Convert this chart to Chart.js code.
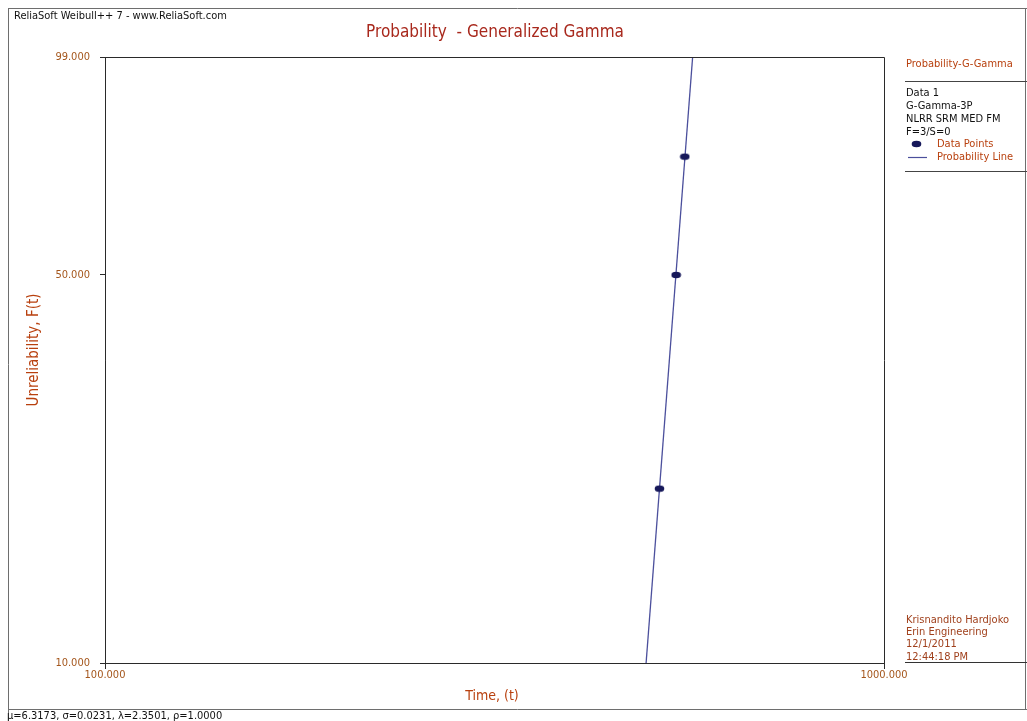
<!DOCTYPE html>
<html>
<head>
<meta charset="utf-8">
<script src="https://cdn.jsdelivr.net/npm/chart.js@4.4.1/dist/chart.umd.min.js"></script>
<style>
  html, body { margin: 0; padding: 0; background: #fff; }
  #wrap { position: relative; width: 1027px; height: 721px; }
</style>
</head>
<body>
<div id="wrap"><canvas id="c" width="1027" height="721"></canvas></div>
<script>
// Fitted G-Gamma parameters
const mu = 6.3173;
const sigma = 0.0231;
const lambda = 2.3501;
const rho = 1.0;

// Failure data (times) and their median ranks, in percent
const failureTimes = [515, 541, 555];
const medianRanks = [20.63, 50.0, 79.37];

// Probability line end points: time and unreliability (%)
const lineTimes = [495, 568];
const lineUnrel = [10, 99];

// Tick labels
const yTickLabels = [10, 50, 99];
const xTickLabels = [100, 1000];

// ---- probability scale for the generalized gamma paper ----
function lnGamma(z) {
  const g = 7;
  const c = [0.99999999999980993, 676.5203681218851, -1259.1392167224028,
    771.32342877765313, -176.61502916214059, 12.507343278686905,
    -0.13857109526572012, 9.9843695780195716e-6, 1.5056327351493116e-7];
  if (z < 0.5) return Math.log(Math.PI / Math.sin(Math.PI * z)) - lnGamma(1 - z);
  z -= 1;
  let x = c[0];
  for (let i = 1; i < g + 2; i++) x += c[i] / (z + i);
  const t = z + g + 0.5;
  return 0.5 * Math.log(2 * Math.PI) + (z + 0.5) * Math.log(t) - t + Math.log(x);
}
function gammaP(a, x) {
  if (x <= 0) return 0;
  const front = Math.exp(-x + a * Math.log(x) - lnGamma(a));
  if (x < a + 1) {
    let ap = a, sum = 1 / a, del = sum;
    for (let n = 0; n < 1000; n++) {
      ap += 1; del *= x / ap; sum += del;
      if (Math.abs(del) < Math.abs(sum) * 1e-15) break;
    }
    return sum * front;
  }
  let b = x + 1 - a, c = 1e300, d = 1 / b, h = d;
  for (let i = 1; i < 1000; i++) {
    const an = -i * (i - a);
    b += 2;
    d = an * d + b; if (Math.abs(d) < 1e-300) d = 1e-300;
    c = b + an / c; if (Math.abs(c) < 1e-300) c = 1e-300;
    d = 1 / d;
    const del = d * c; h *= del;
    if (Math.abs(del - 1) < 1e-15) break;
  }
  return 1 - front * h;
}
function gammaPInv(a, p) {
  let lo = -80, hi = 7;
  for (let i = 0; i < 200; i++) {
    const m = (lo + hi) / 2;
    if (gammaP(a, Math.exp(m)) < p) lo = m; else hi = m;
  }
  return Math.exp((lo + hi) / 2);
}
// standardized G-Gamma variate for an unreliability given in percent
function ggScale(pct) {
  const k = 1 / (lambda * lambda);
  const x = gammaPInv(k, pct / 100);
  return Math.log(x / k) / lambda;
}

const pointData = failureTimes.map((t, i) => ({ x: t, y: ggScale(medianRanks[i]) }));
const lineData = lineTimes.map((t, i) => ({ x: t, y: ggScale(lineUnrel[i]) }));
const yTickValues = yTickLabels.map(ggScale);

// oval marker for the data points
const marker = document.createElement('canvas');
marker.width = 11; marker.height = 8;
(function () {
  const m = marker.getContext('2d');
  m.fillStyle = '#16185a';
  m.beginPath();
  m.ellipse(5.5, 4, 4.8, 3.3, 0, 0, Math.PI * 2);
  m.fill();
})();

const FONT = "'DejaVu Sans Condensed', 'DejaVu Sans', sans-serif";
const TICK_COLOR = '#a4561c';
const RED = '#a8281c';
const AXIS_TITLE = '#b8400e';

const decor = {
  id: 'decor',
  afterDraw(chart) {
    const ctx = chart.ctx;
    const a = chart.chartArea;
    ctx.save();

    // outer frame
    ctx.strokeStyle = '#6e6e6e';
    ctx.lineWidth = 1;
    ctx.beginPath();
    ctx.moveTo(8, 8.5); ctx.lineTo(1027, 8.5);
    ctx.moveTo(8.5, 8); ctx.lineTo(8.5, 721);
    ctx.moveTo(8, 709.5); ctx.lineTo(1027, 709.5);
    ctx.moveTo(1025.5, 8); ctx.lineTo(1025.5, 710);
    ctx.stroke();

    // plot box
    ctx.strokeStyle = '#2a2a2a';
    ctx.beginPath();
    ctx.rect(Math.round(a.left) + 0.5, Math.round(a.top) + 0.5,
      Math.round(a.right - a.left), Math.round(a.bottom - a.top));
    ctx.stroke();

    // header
    ctx.fillStyle = '#111';
    ctx.font = "11px " + FONT;
    ctx.textBaseline = 'middle';
    ctx.textAlign = 'left';
    ctx.fillText('ReliaSoft Weibull++ 7 - www.ReliaSoft.com', 14, 16);

    // title
    ctx.fillStyle = RED;
    ctx.font = "17px " + FONT;
    ctx.textAlign = 'center';
    ctx.fillText('Probability  - Generalized Gamma', 495, 33);

    // axis titles
    ctx.fillStyle = AXIS_TITLE;
    ctx.font = "14px " + FONT;
    ctx.fillText('Time, (t)', 492, 696);
    ctx.save();
    ctx.font = "15px " + FONT;
    ctx.translate(34, 350);
    ctx.rotate(-Math.PI / 2);
    ctx.fillText('Unreliability, F(t)', 0, 0);
    ctx.restore();

    // legend panel
    ctx.textAlign = 'left';
    ctx.font = "11px " + FONT;
    ctx.fillStyle = AXIS_TITLE;
    ctx.fillText('Probability-G-Gamma', 906, 64);
    ctx.strokeStyle = '#444';
    ctx.beginPath();
    ctx.moveTo(905, 81.5); ctx.lineTo(1027, 81.5);
    ctx.moveTo(905, 171.5); ctx.lineTo(1027, 171.5);
    ctx.stroke();
    ctx.fillStyle = '#111';
    ['Data 1', 'G-Gamma-3P', 'NLRR SRM MED FM', 'F=3/S=0'].forEach((s, i) => {
      ctx.fillText(s, 906, 93 + i * 13);
    });
    ctx.drawImage(marker, 911, 140);
    ctx.strokeStyle = '#4b4f9c';
    ctx.lineWidth = 1.2;
    ctx.beginPath();
    ctx.moveTo(908, 157.5); ctx.lineTo(927, 157.5);
    ctx.stroke();
    ctx.fillStyle = AXIS_TITLE;
    ctx.fillText('Data Points', 937, 144);
    ctx.fillText('Probability Line', 937, 157);

    // author block
    ctx.fillStyle = '#a0401c';
    ['Krisnandito Hardjoko', 'Erin Engineering', '12/1/2011', '12:44:18 PM'].forEach((s, i) => {
      ctx.fillText(s, 906, 620 + i * 12.3);
    });
    ctx.strokeStyle = '#333';
    ctx.lineWidth = 1;
    ctx.beginPath();
    ctx.moveTo(905, 662.5); ctx.lineTo(1027, 662.5);
    ctx.stroke();

    // parameter footer
    ctx.fillStyle = '#111';
    ctx.font = "11px " + FONT;
    ctx.fillText('\u03bc=' + mu.toFixed(4) + ', \u03c3=' + sigma.toFixed(4) +
      ', \u03bb=' + lambda.toFixed(4) + ', \u03c1=' + rho.toFixed(4), 7, 716);

    ctx.restore();
  }
};

new Chart(document.getElementById('c'), {
  type: 'scatter',
  data: {
    datasets: [
      {
        label: 'Probability Line',
        data: lineData,
        showLine: true,
        borderColor: '#4b4f9c',
        borderWidth: 1.3,
        pointRadius: 0,
        fill: false,
        order: 2
      },
      {
        label: 'Data Points',
        data: pointData,
        pointStyle: marker,
        pointRadius: 5,
        order: 1
      }
    ]
  },
  options: {
    responsive: false,
    animation: false,
    devicePixelRatio: 1,
    layout: { padding: { left: 0, top: 57, right: 143, bottom: 0 } },
    plugins: { legend: { display: false }, tooltip: { enabled: false }, title: { display: false } },
    scales: {
      x: {
        type: 'logarithmic',
        min: xTickLabels[0],
        max: xTickLabels[xTickLabels.length - 1],
        afterBuildTicks: s => { s.ticks = xTickLabels.map(v => ({ value: v })); },
        afterFit: s => { s.height = 58; },
        ticks: {
          callback: v => Number(v).toFixed(3),
          color: TICK_COLOR,
          font: { family: FONT, size: 11 },
          padding: 0,
          maxRotation: 0,
          autoSkip: false
        },
        grid: { drawOnChartArea: false, drawTicks: true, tickLength: 6, color: '#2a2a2a' },
        border: { display: true, color: '#2a2a2a' }
      },
      y: {
        type: 'linear',
        min: yTickValues[0],
        max: yTickValues[yTickValues.length - 1],
        afterBuildTicks: s => { s.ticks = yTickValues.map(v => ({ value: v })); },
        afterFit: s => { s.width = 105; },
        ticks: {
          callback: (v, i) => yTickLabels[i].toFixed(3),
          color: TICK_COLOR,
          font: { family: FONT, size: 11 },
          padding: 10,
          autoSkip: false
        },
        grid: { drawOnChartArea: false, drawTicks: true, tickLength: 5, color: '#2a2a2a' },
        border: { display: true, color: '#2a2a2a' }
      }
    }
  },
  plugins: [decor]
});
</script>
</body>
</html>
